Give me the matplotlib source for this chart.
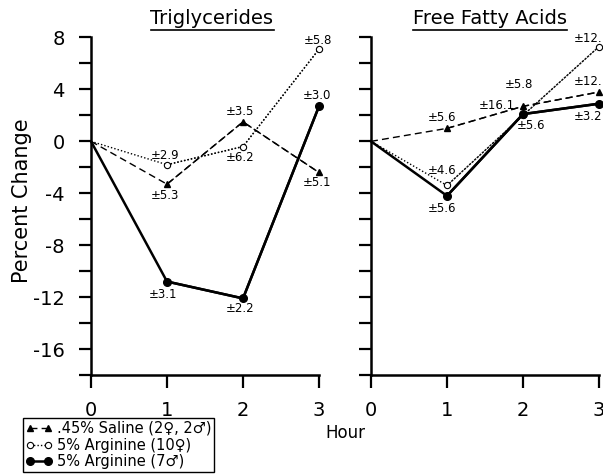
import matplotlib
matplotlib.use("Agg")
import matplotlib.pyplot as plt
from matplotlib.lines import Line2D
from matplotlib.ticker import MultipleLocator

# values (percent change vs hour)
hours = [0, 1, 2, 3]

tg_saline = [0, -3.3, 1.5, -2.4]
tg_arg_female = [0, -1.8, -0.4, 7.1]
tg_arg_male = [0, -10.8, -12.1, 2.7]

ffa_saline = [0, 1.0, 2.7, 3.8]
ffa_arg_female = [0, -3.4, 2.0, 7.3]
ffa_arg_male = [0, -4.2, 2.1, 2.9]

# standard error labels: text, x, y (data units)
tg_se_text = ["±2.9", "±5.3", "±3.5", "±6.2", "±3.1", "±2.2", "±5.8", "±3.0", "±5.1"]
tg_se_x = [0.97, 0.97, 1.96, 1.96, 0.95, 1.96, 2.98, 2.97, 2.97]
tg_se_y = [-1.1, -4.15, 2.3, -1.25, -11.8, -12.9, 7.8, 3.5, -3.15]

ffa_se_text = ["±5.6", "±4.6", "±5.6", "±16.1", "±5.8", "±5.6", "±12.", "±12.", "±3.2"]
ffa_se_x = [0.93, 0.93, 0.93, 1.66, 1.95, 2.1, 2.86, 2.86, 2.86]
ffa_se_y = [1.8, -2.25, -5.2, 2.75, 4.4, 1.25, 7.9, 4.6, 1.9]

legend_labels = [".45% Saline (2♀, 2♂)", "5% Arginine (10♀)", "5% Arginine (7♂)"]

plt.rcParams["font.family"] = ["DejaVu Sans"]

fig = plt.figure(figsize=(6.03, 4.76), dpi=100)
ax1 = fig.add_axes([91 / 603, 1 - 375 / 476, 228 / 603, 337.5 / 476])
ax2 = fig.add_axes([371 / 603, 1 - 375 / 476, 228 / 603, 337.5 / 476])

styles = {
    "saline": dict(color="black", linestyle=(0, (5, 3)), linewidth=1.0,
                   marker="^", markersize=4.5),
    "female": dict(color="black", linestyle=(0, (1, 1.5)), linewidth=1.0,
                   marker="o", markersize=4.5, markerfacecolor="white",
                   markeredgewidth=0.8),
    "male": dict(color="black", linestyle="-", linewidth=1.8,
                 marker="o", markersize=5.5),
}


def draw_panel(ax, saline, female, male, se_text, se_x, se_y, show_labels):
    # lines run from the origin, markers only from hour 1 on
    ax.plot(hours, saline, clip_on=False, color="black",
            linestyle=(0, (5, 3)), linewidth=1.0)
    ax.plot(hours[1:], saline[1:], clip_on=False, **styles["saline"])
    ax.plot(hours, female, clip_on=False, color="black",
            linestyle=(0, (1, 1.5)), linewidth=1.0)
    ax.plot(hours[1:], female[1:], clip_on=False, **styles["female"])
    ax.plot(hours, male, clip_on=False, color="black", linewidth=1.8)
    ax.plot(hours[1:], male[1:], clip_on=False, **styles["male"])

    for t, x, y in zip(se_text, se_x, se_y):
        ax.text(x, y, t, fontsize=8.5, ha="center", va="center")

    ax.set_xlim(0, 3)
    ax.set_ylim(-18, 8)
    ax.spines["top"].set_visible(False)
    ax.spines["right"].set_visible(False)
    ax.spines["left"].set_linewidth(1.8)
    ax.spines["bottom"].set_linewidth(1.8)
    ax.set_xticks(hours)
    ax.set_xticklabels([str(h) for h in hours])
    ax.yaxis.set_major_locator(MultipleLocator(4))
    ax.yaxis.set_minor_locator(MultipleLocator(2))
    ax.tick_params(which="both", direction="out", length=9, width=1.6)
    ax.tick_params(axis="both", labelsize=14, pad=10)
    ax.set_yticks([-16, -12, -8, -4, 0, 4, 8])
    if show_labels:
        ax.set_yticklabels(["-16", "-12", "-8", "-4", "0", "4", "8"])
    else:
        ax.set_yticklabels([])


draw_panel(ax1, tg_saline, tg_arg_female, tg_arg_male,
           tg_se_text, tg_se_x, tg_se_y, True)
draw_panel(ax2, ffa_saline, ffa_arg_female, ffa_arg_male,
           ffa_se_text, ffa_se_x, ffa_se_y, False)

# underlined panel titles
t1 = fig.text(212 / 603, 1 - 18 / 476, "Triglycerides", fontsize=14,
              ha="center", va="center")
t2 = fig.text(490 / 603, 1 - 18 / 476, "Free Fatty Acids", fontsize=14,
              ha="center", va="center")
fig.canvas.draw()
for t in (t1, t2):
    bb = t.get_window_extent()
    y = 1 - 30 / 476
    fig.add_artist(Line2D([bb.x0 / 603, bb.x1 / 603], [y, y],
                          color="black", linewidth=1.2))

fig.text(22 / 603, 1 - 201 / 476, "Percent Change", fontsize=15,
         rotation=90, ha="center", va="center")
fig.text(345 / 603, 1 - 433 / 476, "Hour", fontsize=12,
         ha="center", va="center")

handles = [Line2D([], [], **styles["saline"]),
           Line2D([], [], **styles["female"]),
           Line2D([], [], **styles["male"])]
leg = fig.legend(handles, legend_labels, loc="upper left",
                 bbox_to_anchor=(23 / 603, 1 - 418 / 476), numpoints=2,
                 fontsize=10.5, handlelength=1.8, handletextpad=0.3,
                 labelspacing=0.12, borderpad=0.2, borderaxespad=0,
                 fancybox=False, framealpha=1)
leg.get_frame().set_edgecolor("black")
leg.get_frame().set_linewidth(1.0)

fig.savefig("out.png", dpi=100)
